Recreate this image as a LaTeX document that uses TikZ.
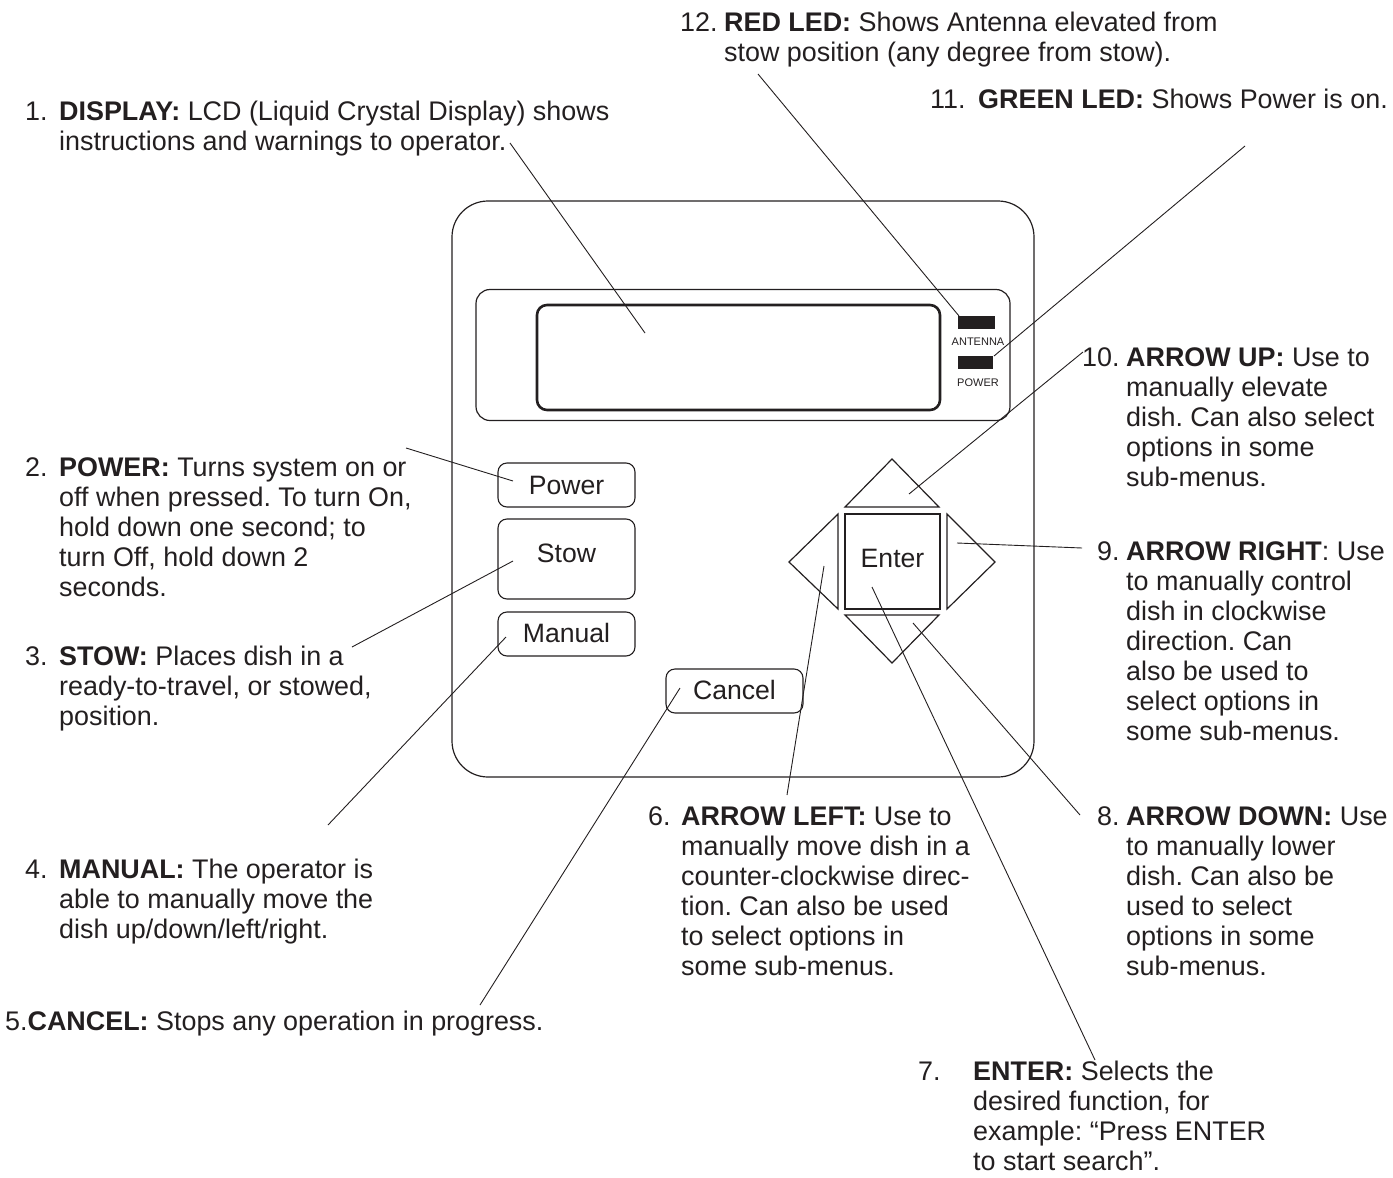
\documentclass[tikz,border=0pt]{standalone}
\usepackage{fontspec}
\setmainfont{Liberation Sans}
\definecolor{ink}{HTML}{231F20}
\newcommand{\mlines}[1]{\begin{tabular}[t]{@{}l@{}}#1\end{tabular}}
\frenchspacing
\begin{document}
\begin{tikzpicture}[x=1pt,y=-1pt,
  every node/.style={text=ink},
  lbl/.style={inner sep=0pt, anchor=base west, font=\fontsize{26.9}{30}\selectfont},
  btn/.style={draw=ink, line width=1.1pt, rounded corners=9pt, inner sep=0pt, font=\fontsize{26.6}{30}\selectfont},
  leader/.style={draw=ink, line width=0.9pt},
  outline/.style={draw=ink, line width=1.2pt},
  led/.style={fill=ink, draw=none, inner sep=0pt}]
\useasboundingbox (0,0) rectangle (1393,1178);

% panel
\node[outline, rounded corners=36pt, minimum width=582pt, minimum height=576pt, inner sep=0pt] (panel) at (743,489) {};
\node[outline, rounded corners=14pt, minimum width=534pt, minimum height=131pt, inner sep=0pt] (bezel) at (743,355) {};
\node[draw=ink, line width=2.6pt, rounded corners=10pt, minimum width=403pt, minimum height=105pt, inner sep=0pt] (lcd) at (738.5,357.5) {};
\node[led, minimum width=37pt, minimum height=13pt] (redled) at (976.5,322.5) {};
\node[inner sep=0pt, font=\fontsize{11}{12}\selectfont] (antlbl) at (978,342) {ANTENNA};
\node[led, minimum width=35pt, minimum height=13pt] (grnled) at (975.5,362.5) {};
\node[inner sep=0pt, font=\fontsize{11}{12}\selectfont] (pwrlbl) at (978,383) {POWER};

% buttons
\node[btn, minimum width=137pt, minimum height=44pt] (power) at (566.5,485) {Power};
\node[btn, minimum width=137pt, minimum height=80pt] (stow) at (566.5,559) {\raisebox{12pt}{Stow}};
\node[btn, minimum width=137pt, minimum height=44pt] (manual) at (566.5,634) {\raisebox{2pt}{Manual}};
\node[btn, minimum width=137pt, minimum height=44pt] (cancel) at (734.5,691) {\raisebox{2pt}{Cancel}};

% arrow pad
\node[outline, minimum width=95pt, minimum height=95pt, inner sep=0pt, font=\fontsize{26.6}{30}\selectfont] (enter) at (892.5,561.5) {\raisebox{6pt}{Enter}};
\coordinate (upA) at (892,459); \coordinate (upB) at (845,507); \coordinate (upC) at (939,507);
\draw[outline, line join=miter] (upB) -- (upA) -- (upC) -- cycle;
\coordinate (dnA) at (892,663); \coordinate (dnB) at (845,615); \coordinate (dnC) at (939,615);
\draw[outline, line join=miter] (dnB) -- (dnA) -- (dnC) -- cycle;
\coordinate (lfA) at (789,562); \coordinate (lfB) at (838,514); \coordinate (lfC) at (838,609);
\draw[outline, line join=miter] (lfB) -- (lfA) -- (lfC) -- cycle;
\coordinate (rtA) at (995,562); \coordinate (rtB) at (947,514); \coordinate (rtC) at (947,609);
\draw[outline, line join=miter] (rtB) -- (rtA) -- (rtC) -- cycle;

% texts
\node[lbl] (n1) at (25,120) {1.};
\node[lbl] (t1) at (59,120) {\mlines{\textbf{DISPLAY:} LCD (Liquid Crystal Display) shows\\instructions and warnings to operator.}};
\node[lbl] (n12) at (680,31) {12.};
\node[lbl] (t12) at (724,31) {\mlines{\textbf{RED LED:} Shows Antenna elevated from\\stow position (any degree from stow).}};
\node[lbl] (n11) at (930,108) {11.};
\node[lbl] (t11) at (978,108) {\textbf{GREEN LED:} Shows Power is on.};
\node[lbl] (n10) at (1082,366) {10.};
\node[lbl] (t10) at (1126,366) {\mlines{\textbf{ARROW UP:} Use to\\manually elevate\\dish. Can also select\\options in some\\sub-menus.}};
\node[lbl] (n2) at (25,476) {2.};
\node[lbl] (t2) at (59,476) {\mlines{\textbf{POWER:} Turns system on or\\off when pressed. To turn On,\\hold down one second; to\\turn Off, hold down 2\\seconds.}};
\node[lbl] (n9) at (1097,560) {9.};
\node[lbl] (t9) at (1126,560) {\mlines{\textbf{ARROW RIGHT}: Use\\to manually control\\dish in clockwise\\direction. Can\\also be used to\\select options in\\some sub-menus.}};
\node[lbl] (n3) at (25,665) {3.};
\node[lbl] (t3) at (59,665) {\mlines{\textbf{STOW:} Places dish in a\\ready-to-travel, or stowed,\\position.}};
\node[lbl] (n6) at (648,825) {6.};
\node[lbl] (t6) at (681,825) {\mlines{\textbf{ARROW LEFT:} Use to\\manually move dish in a\\counter-clockwise direc-\\tion. Can also be used\\to select options in\\some sub-menus.}};
\node[lbl] (n8) at (1097,825) {8.};
\node[lbl] (t8) at (1126,825) {\mlines{\textbf{ARROW DOWN:} Use\\to manually lower\\dish. Can also be\\used to select\\options in some\\sub-menus.}};
\node[lbl] (n4) at (25,878) {4.};
\node[lbl] (t4) at (59,878) {\mlines{\textbf{MANUAL:} The operator is\\able to manually move the\\dish up/down/left/right.}};
\node[lbl] (t5) at (5,1030) {5.\textbf{CANCEL:} Stops any operation in progress.};
\node[lbl] (n7) at (918,1080) {7.};
\node[lbl] (t7) at (973,1080) {\mlines{\textbf{ENTER:} Selects the\\desired function, for\\example: “Press ENTER\\to start search”.}};

% leader ends
\coordinate (s1) at (510,143);  \coordinate (e1) at (645,333);
\coordinate (s12) at (758,74);  \coordinate (e12) at (959,316);
\coordinate (s11) at (1245,146); \coordinate (e11) at (994,356);
\coordinate (s10) at (1083,352); \coordinate (e10) at (909,494);
\coordinate (s9) at (1082,548);  \coordinate (e9) at (957,543);
\coordinate (s2) at (406,448);   \coordinate (e2) at (513,481);
\coordinate (s3) at (352,647);   \coordinate (e3) at (513,561);
\coordinate (s4) at (328,825);   \coordinate (e4) at (506,637);
\coordinate (s5) at (480,1005);  \coordinate (e5) at (680,688);
\coordinate (s6) at (787,795);   \coordinate (e6) at (824,566);
\coordinate (s7) at (1095,1060); \coordinate (e7) at (872,587);
\coordinate (s8) at (1080,815);  \coordinate (e8) at (913,623);
\foreach \i in {1,...,12} { \draw[leader] (s\i) -- (e\i); }
\end{tikzpicture}
\end{document}
